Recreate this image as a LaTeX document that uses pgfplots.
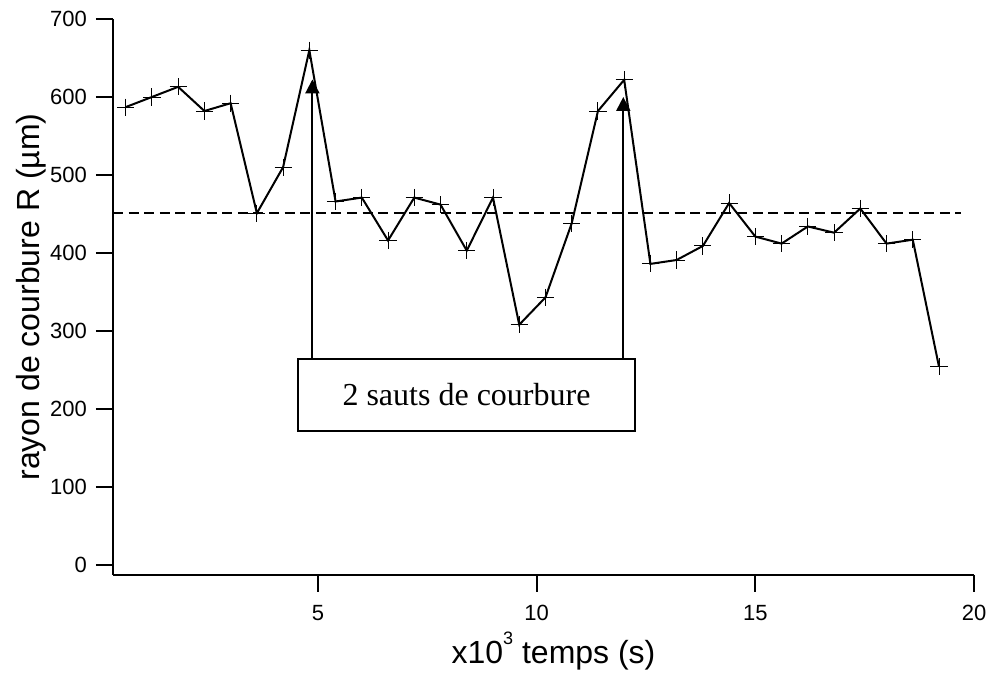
\documentclass[border=0pt]{standalone}
\usepackage{fontspec}
\setmainfont{Liberation Sans}
\newfontfamily\timesfont{Liberation Serif}
\usepackage{pgfplots}
\pgfplotsset{compat=1.18}
\usetikzlibrary{arrows.meta}
\begin{document}
\begin{tikzpicture}
\path[use as bounding box] (0,0) rectangle (495.5pt,336.5pt);
\begin{axis}[
  at={(56.5pt,49pt)}, anchor=south west,
  scale only axis, width=430.5pt, height=278pt,
  xmin=0.31, xmax=20, ymin=-12.9, ymax=700,
  axis x line=bottom, axis y line=left,
  axis line style={-, line width=1pt},
  tick align=outside,
  major tick length=8.5pt,
  tick style={black, line width=1pt},
  xtick={5,10,15,20}, ytick={0,100,...,700},
  minor tick num=0,
  /pgf/number format/assume math mode=true,
  tick label style={font=\fontsize{11}{12}\selectfont},
  xticklabel style={yshift=-3pt},
  yticklabel style={xshift=-1pt},
  label style={font=\fontsize{16}{19}\selectfont},
  xlabel={x10\raisebox{9.5pt}{\fontsize{9}{10}\selectfont 3} temps (s)},
  ylabel={rayon de courbure R (µm)},
  xlabel style={at={(axis description cs:0.5,0)}, anchor=center, yshift=-38pt, xshift=5pt},
  ylabel style={at={(axis description cs:-0.0947,0.5)}, anchor=center},
  clip=false,
]
\addplot[black, line width=1pt, dash pattern=on 5pt off 2.8pt] coordinates {(0.31,451) (19.7,451)};
\addplot[black, line width=1pt, mark=+, mark size=4.3pt, mark options={line width=0.45pt, solid}] coordinates {
(0.6,587)(1.2,600)(1.8,613)(2.4,582)(3.0,592)(3.6,451)(4.2,510)(4.8,660)
(5.4,466)(6.0,471)(6.6,416)(7.2,471)(7.8,462)(8.4,403)(9.0,471)(9.6,308)
(10.2,343)(10.8,438)(11.4,582)(12.0,622)(12.6,386)(13.2,391)(13.8,409)(14.4,464)
(15.0,421)(15.6,412)(16.2,434)(16.8,426)(17.4,457)(18.0,412)(18.6,417)(19.2,254)
};
\draw[line width=1pt, -{Triangle[width=7pt,length=7pt]}] (axis cs:4.87,264) -- (axis cs:4.87,622.5);
\draw[line width=1pt, -{Triangle[width=7pt,length=7pt]}] (axis cs:11.98,264) -- (axis cs:11.98,600);
\draw[line width=1pt, fill=white] (axis cs:4.55,172) rectangle (axis cs:12.24,264);
\node[font=\timesfont\fontsize{16}{19}\selectfont, anchor=base] at (axis cs:8.395,204) {2 sauts de courbure};
\end{axis}
\end{tikzpicture}
\end{document}
